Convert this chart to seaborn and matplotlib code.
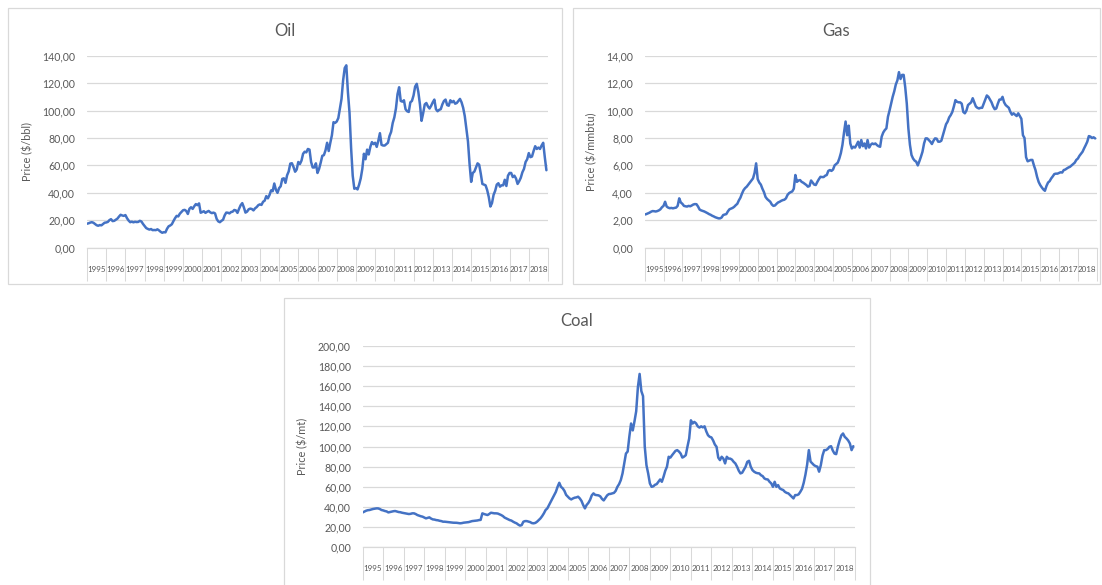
import numpy as np
import pandas as pd
import matplotlib
matplotlib.use("Agg")
import matplotlib.pyplot as plt
import seaborn as sns
from matplotlib.ticker import FuncFormatter
from matplotlib.patches import Rectangle

# ---------------- data (monthly, Jan 1995 - Dec 2018) ----------------
years = list(range(1995, 2019))

oil = [
    17.5, 17.8, 18.3, 18.6, 18.2, 17.3, 16.4, 16.0, 16.5, 16.3, 17.2, 18.2,   # 1995
    18.4, 18.8, 20.1, 20.8, 19.4, 19.6, 20.4, 21.2, 22.7, 24.0, 23.5, 23.2,   # 1996
    23.8, 21.5, 19.8, 18.6, 19.0, 18.5, 18.9, 18.7, 18.8, 19.6, 19.1, 17.3,   # 1997
    15.8, 14.3, 13.7, 13.2, 13.6, 12.8, 12.9, 12.8, 13.4, 12.6, 11.6, 10.9,   # 1998
    11.3, 11.2, 13.8, 15.6, 16.2, 17.1, 19.4, 21.5, 23.2, 22.8, 24.8, 26.0,   # 1999
    27.3, 27.6, 26.8, 24.6, 28.4, 29.5, 28.3, 30.2, 31.8, 31.0, 32.3, 25.5,   # 2000
    26.0, 26.6, 25.4, 26.2, 26.8, 25.8, 25.2, 25.6, 25.0, 21.0, 19.2, 18.6,   # 2001
    19.6, 20.4, 23.6, 25.6, 25.5, 25.0, 26.0, 26.3, 27.5, 27.2, 25.4, 28.4,   # 2002
    31.0, 32.5, 29.4, 25.6, 26.3, 28.0, 28.5, 28.2, 27.2, 28.7, 29.6, 31.0,   # 2003
    31.6, 31.2, 33.5, 34.3, 37.6, 36.0, 38.4, 41.8, 41.2, 46.8, 42.3, 40.0,   # 2004
    43.4, 44.8, 50.2, 50.6, 47.3, 52.8, 55.6, 61.3, 61.6, 58.9, 55.4, 57.0,   # 2005
    62.5, 61.0, 63.5, 68.5, 70.0, 69.5, 72.0, 71.5, 62.5, 58.5, 58.5, 61.5,   # 2006
    54.5, 57.5, 62.0, 67.0, 67.5, 71.0, 76.5, 70.5, 76.5, 82.0, 91.5, 91.0,   # 2007
    92.0, 94.5, 101.5, 108.5, 122.0, 131.0, 133.0, 113.5, 98.5, 72.5, 52.5, 43.0,  # 2008
    43.5, 42.5, 46.0, 50.5, 57.5, 68.5, 64.5, 71.5, 68.0, 73.5, 77.0, 75.5,   # 2009
    76.5, 73.5, 78.0, 83.5, 75.0, 74.5, 74.5, 75.5, 76.5, 81.5, 84.5, 91.0,   # 2010
    95.0, 101.5, 112.0, 117.0, 107.0, 106.5, 107.5, 101.0, 99.5, 99.0, 106.0, 107.0,  # 2011
    111.0, 117.5, 119.5, 113.5, 104.5, 92.5, 98.0, 104.5, 105.5, 103.0, 101.5, 103.5,  # 2012
    106.0, 108.0, 101.0, 99.5, 100.5, 101.0, 104.5, 107.0, 108.0, 104.0, 103.5, 107.5,  # 2013
    106.0, 107.0, 105.0, 105.5, 107.0, 108.5, 106.0, 102.0, 96.0, 86.5, 77.5, 61.0,    # 2014
    48.0, 54.5, 55.5, 58.5, 61.5, 60.5, 54.0, 46.5, 46.0, 45.5, 42.0, 37.0,   # 2015
    30.0, 32.5, 38.5, 41.5, 46.0, 47.0, 44.5, 45.5, 45.5, 49.5, 45.0, 52.5,   # 2016
    54.5, 54.5, 51.5, 52.5, 50.5, 46.5, 48.5, 51.0, 55.0, 57.5, 62.5, 64.5,   # 2017
    69.0, 66.0, 66.5, 70.5, 74.0, 72.0, 73.0, 72.0, 74.5, 76.5, 66.0, 56.5,   # 2018
]

gas = [
    2.42, 2.45, 2.50, 2.55, 2.62, 2.67, 2.66, 2.64, 2.67, 2.72, 2.80, 2.95,   # 1995
    3.05, 3.35, 3.00, 2.92, 2.88, 2.90, 2.87, 2.90, 2.92, 3.05, 3.60, 3.30,   # 1996
    3.20, 3.05, 3.02, 3.00, 3.05, 3.02, 3.08, 3.15, 3.18, 3.17, 3.00, 2.78,   # 1997
    2.72, 2.68, 2.64, 2.58, 2.52, 2.45, 2.40, 2.33, 2.28, 2.22, 2.18, 2.14,   # 1998
    2.14, 2.20, 2.38, 2.42, 2.45, 2.65, 2.80, 2.85, 2.90, 2.98, 3.10, 3.20,   # 1999
    3.45, 3.65, 3.95, 4.20, 4.35, 4.45, 4.60, 4.75, 4.90, 5.05, 5.45, 6.15,   # 2000
    5.00, 4.75, 4.60, 4.30, 4.05, 3.70, 3.55, 3.45, 3.35, 3.15, 3.05, 3.08,   # 2001
    3.20, 3.30, 3.35, 3.42, 3.47, 3.50, 3.60, 3.85, 3.98, 4.05, 4.10, 4.30,   # 2002
    5.30, 4.80, 4.90, 4.93, 4.80, 4.74, 4.65, 4.57, 4.45, 4.50, 4.90, 4.75,   # 2003
    4.60, 4.57, 4.80, 5.00, 5.17, 5.15, 5.15, 5.25, 5.30, 5.60, 5.66, 5.60,   # 2004
    5.70, 6.00, 6.10, 6.20, 6.50, 6.90, 7.50, 8.40, 9.20, 8.20, 8.90, 7.60,   # 2005
    7.24, 7.36, 7.30, 7.50, 7.73, 7.30, 7.85, 7.40, 7.60, 7.24, 7.85, 7.30,   # 2006
    7.50, 7.60, 7.55, 7.60, 7.48, 7.40, 7.36, 8.10, 8.40, 8.58, 8.70, 9.55,   # 2007
    10.00, 10.50, 11.00, 11.40, 11.90, 12.20, 12.80, 12.30, 12.60, 12.60, 11.70, 10.50,  # 2008
    8.70, 7.50, 6.76, 6.50, 6.35, 6.27, 6.00, 6.30, 6.63, 7.00, 7.60, 7.97,   # 2009
    7.97, 7.85, 7.73, 7.56, 7.80, 7.97, 7.95, 7.73, 7.73, 7.80, 8.20, 8.58,   # 2010
    9.00, 9.19, 9.50, 9.67, 9.90, 10.30, 10.76, 10.64, 10.60, 10.60, 10.50, 9.90,   # 2011
    9.80, 10.00, 10.40, 10.50, 10.60, 10.90, 10.60, 10.30, 10.20, 10.15, 10.20, 10.20,  # 2012
    10.50, 10.80, 11.10, 11.00, 10.80, 10.60, 10.30, 10.10, 10.15, 10.50, 10.80, 10.80,  # 2013
    11.00, 10.60, 10.40, 10.30, 10.20, 9.90, 9.70, 9.80, 9.70, 9.60, 9.80, 9.60,   # 2014
    9.40, 8.20, 8.00, 6.60, 6.30, 6.35, 6.40, 6.40, 6.00, 5.66, 5.17, 4.80,   # 2015
    4.57, 4.40, 4.25, 4.15, 4.50, 4.75, 4.85, 5.05, 5.20, 5.37, 5.40, 5.40,   # 2016
    5.45, 5.50, 5.48, 5.66, 5.70, 5.78, 5.85, 5.90, 6.00, 6.10, 6.20, 6.40,   # 2017
    6.50, 6.70, 6.85, 7.00, 7.25, 7.48, 7.73, 8.14, 8.10, 8.00, 8.05, 7.97,   # 2018
]

coal = [
    34.6, 35.5, 36.3, 36.8, 37.0, 37.5, 38.0, 38.3, 38.6, 38.6, 38.0, 37.0,   # 1995
    36.6, 36.0, 35.6, 34.6, 35.0, 35.3, 35.8, 36.0, 35.5, 35.0, 34.8, 34.3,   # 1996
    34.0, 33.7, 33.4, 33.0, 33.2, 33.7, 33.7, 33.0, 32.0, 31.4, 30.8, 30.4,   # 1997
    29.5, 28.7, 29.2, 29.7, 28.5, 27.7, 27.5, 27.0, 26.8, 26.3, 26.0, 25.4,   # 1998
    25.4, 25.2, 25.0, 24.7, 24.6, 24.4, 24.4, 24.3, 24.0, 23.8, 24.0, 24.4,   # 1999
    24.6, 24.7, 25.0, 25.5, 26.0, 26.2, 26.4, 26.6, 27.0, 27.2, 33.7, 33.0,   # 2000
    32.5, 32.0, 33.0, 34.3, 34.0, 33.7, 33.7, 33.5, 32.8, 32.0, 31.0, 29.5,   # 2001
    28.7, 28.0, 27.0, 26.5, 25.4, 24.5, 23.8, 22.5, 21.5, 22.0, 25.4, 26.0,   # 2002
    26.0, 25.5, 25.0, 24.0, 23.8, 24.2, 25.4, 27.0, 28.7, 31.0, 33.7, 37.0,   # 2003
    38.6, 41.9, 45.0, 48.5, 52.0, 55.0, 60.0, 64.0, 60.0, 58.5, 56.0, 52.0,   # 2004
    50.2, 48.5, 47.5, 48.5, 49.2, 49.5, 50.2, 48.5, 46.0, 41.9, 38.6, 42.0,   # 2005
    44.0, 47.0, 51.5, 53.5, 52.0, 51.8, 51.5, 50.5, 48.0, 46.5, 49.0, 51.5,   # 2006
    52.8, 53.0, 53.5, 54.0, 56.0, 60.0, 62.7, 66.7, 73.3, 83.2, 93.0, 95.0,   # 2007
    110.0, 122.8, 116.0, 125.0, 135.0, 159.0, 172.0, 155.0, 150.0, 100.0, 81.5, 73.3,  # 2008
    63.4, 60.0, 60.5, 62.0, 62.7, 65.0, 67.3, 65.0, 70.0, 75.9, 80.0, 89.8,   # 2009
    89.0, 91.4, 93.5, 95.7, 96.4, 95.0, 93.0, 89.0, 90.0, 91.4, 100.0, 108.0,   # 2010
    126.0, 122.8, 124.4, 123.0, 120.0, 118.8, 120.0, 119.0, 120.0, 115.0, 111.2, 109.6,  # 2011
    109.0, 106.0, 102.0, 99.7, 89.0, 86.5, 89.8, 88.0, 83.2, 89.8, 88.0, 88.0,  # 2012
    87.0, 84.8, 83.2, 80.0, 76.0, 73.3, 74.0, 77.0, 80.0, 84.8, 85.8, 80.0,   # 2013
    76.6, 75.0, 74.0, 73.5, 73.3, 71.5, 70.6, 68.3, 67.5, 67.3, 65.0, 63.4,   # 2014
    60.0, 65.0, 60.0, 61.7, 58.4, 57.5, 56.8, 55.0, 54.0, 53.5, 51.8, 50.2,   # 2015
    48.5, 51.8, 51.8, 52.5, 55.0, 58.0, 64.0, 72.0, 82.0, 96.4, 85.0, 83.2,   # 2016
    81.5, 80.5, 80.0, 75.0, 81.5, 91.0, 96.4, 96.4, 97.5, 99.7, 100.3, 96.0,  # 2017
    93.0, 92.4, 100.0, 106.0, 111.0, 112.9, 109.6, 108.0, 106.0, 103.0, 96.4, 100.3,  # 2018
]

oil_ticks = [0, 20, 40, 60, 80, 100, 120, 140]
gas_ticks = [0, 2, 4, 6, 8, 10, 12, 14]
coal_ticks = [0, 20, 40, 60, 80, 100, 120, 140, 160, 180, 200]

titles = ["Oil", "Gas", "Coal"]
ylabels = ["Price ($/bbl)", "Price ($/mmbtu)", "Price ($/mt)"]

assert len(oil) == len(gas) == len(coal) == 12 * len(years)

dates = pd.date_range("1995-01-01", periods=len(oil), freq="MS")
df = pd.DataFrame({"date": dates, "Oil": oil, "Gas": gas, "Coal": coal})
df["t"] = df["date"].dt.year + (df["date"].dt.month - 1) / 12.0

# ---------------- style ----------------
sns.set_theme(style="white")
plt.rcParams["font.family"] = ["Lato", "DejaVu Sans"]

TXT = "#595959"
GRID = "#d9d9d9"
LINE = "#4472C4"

W, H = 1102, 585
fig = plt.figure(figsize=(W / 100, H / 100), dpi=100)
fig.patch.set_facecolor("white")


def fx(px):
    return px / W


def fy(py):  # py measured from the top
    return 1 - py / H


def panel(col, yt, title, ylab, plot_px, frame_px, ylab_x):
    l, t, r, b = plot_px
    fl, ft, fr, fb = frame_px
    fig.add_artist(Rectangle((fx(fl), fy(fb)), fx(fr - fl), (fb - ft) / H,
                             transform=fig.transFigure, fill=False,
                             ec=GRID, lw=0.9, zorder=0))
    ax = fig.add_axes([fx(l), fy(b), fx(r - l), (b - t) / H])
    sns.lineplot(data=df, x="t", y=col, ax=ax, color=LINE, lw=1.8)
    ax.set_xlim(1995, 2019)
    ax.set_ylim(yt[0], yt[-1])
    ax.set_yticks(yt)
    ax.yaxis.set_major_formatter(FuncFormatter(lambda v, p: f"{v:.2f}".replace(".", ",")))
    ax.grid(axis="y", color=GRID, lw=0.9)
    ax.grid(axis="x", visible=False)
    ax.set_axisbelow(True)
    for s in ["top", "right", "left"]:
        ax.spines[s].set_visible(False)
    ax.spines["bottom"].set_color(GRID)
    ax.spines["bottom"].set_linewidth(0.9)
    ax.tick_params(axis="y", length=0, pad=8.5, labelsize=7.6, labelcolor=TXT)
    ax.set_xticks(years + [years[-1] + 1])
    ax.set_xticks([y + 0.5 for y in years], labels=[str(y) for y in years], minor=True)
    ax.tick_params(axis="x", which="major", length=24, width=0.75, color=GRID,
                   labelbottom=False, direction="out", bottom=True)
    ax.tick_params(axis="x", which="minor", length=0, pad=13, labelsize=5.8,
                   labelcolor=TXT, bottom=True)
    ax.set_xlabel("")
    ax.set_ylabel(ylab, fontsize=7.8, color=TXT)
    ax.yaxis.set_label_coords(ylab_x, 0.5)
    fig.text(fx((fl + fr) / 2), fy(ft + 23), title, ha="center", va="center",
             fontsize=12, color=TXT)
    return ax


panel("Oil", oil_ticks, titles[0], ylabels[0],
      (87, 55.7, 548, 247.7), (8, 8, 562, 284), -0.1165)
panel("Gas", gas_ticks, titles[1], ylabels[1],
      (644.7, 55.7, 1096.7, 247.7), (573, 8, 1100, 284), -0.105)
panel("Coal", coal_ticks, titles[2], ylabels[2],
      (362.7, 345.7, 855, 547.3), (284, 298, 870, 592), -0.11)

fig.savefig("out.png", dpi=100, facecolor="white")
